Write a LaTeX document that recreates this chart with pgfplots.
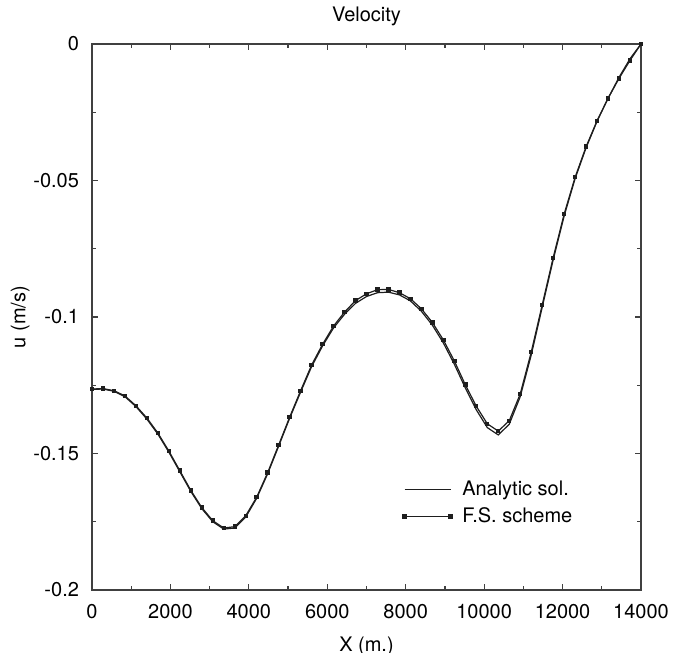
\documentclass[border=0pt]{standalone}
\usepackage{fontspec}
\setmainfont{TeX Gyre Heros}
\usepackage{pgfplots}
\pgfplotsset{compat=1.18}
\definecolor{ink}{HTML}{1E1E1E}
\pgfplotsset{
  plainleg/.style={legend image code/.code={\draw[##1] (0pt,0pt) -- (23pt,0pt);}},
  markleg/.style={legend image code/.code={\draw[##1] plot coordinates {(0pt,0pt) (23pt,0pt)};}},
}

\begin{document}
\fontsize{10}{12}\selectfont
\begin{tikzpicture}
\useasboundingbox (-46pt,-31.5pt) rectangle (292pt,295pt);
\begin{axis}[
  at={(0,0)}, anchor=south west,
  scale only axis,
  width=274.5pt, height=273pt,
  xmin=0, xmax=14000, ymin=-0.2, ymax=0,
  xtick={0,2000,4000,6000,8000,10000,12000,14000},
  xticklabels={0,2000,4000,6000,8000,10000,12000,14000},
  ytick={-0.2,-0.15,-0.1,-0.05,0},
  yticklabels={-0.2,-0.15,-0.1,-0.05,0},
  minor tick num=1,
  tick align=inside,
  major tick length=3pt, minor tick length=1.8pt,
  axis line style={ink!85, line width=0.6pt},
  every tick/.style={ink!85, line width=0.6pt},
  xticklabel style={anchor=base, yshift=-14.5pt},
  yticklabel style={anchor=east, xshift=-3pt},
  title={Velocity},
  title style={at={(axis description cs:0.5,1)}, anchor=base, yshift=5pt},
  xlabel={X (m.)},
  xlabel style={at={(axis description cs:0.5,-0.1118)}, anchor=base},
  ylabel={u (m/s)},
  ylabel style={at={(axis description cs:-0.131,0.5)}, anchor=center},
  legend style={draw=none, fill=none, at={(axis description cs:0.555,0.215)}, anchor=north west,
    row sep=0.5pt, font=\fontsize{10}{12}\selectfont},
  legend cell align=left,
]
\addplot[ink, line width=0.6pt, plainleg] coordinates {
(0,-0.1265) (280,-0.1264) (560,-0.1272) (840,-0.1292) (1120,-0.1328) (1400,-0.1374)
(1680,-0.1429) (1960,-0.1495) (2240,-0.1567) (2520,-0.1639) (2800,-0.1702) (3080,-0.1750)
(3360,-0.1777) (3640,-0.1773) (3920,-0.1733) (4200,-0.1664) (4480,-0.1574) (4760,-0.1473)
(5040,-0.1371) (5320,-0.1275) (5600,-0.1182) (5880,-0.1106) (6160,-0.1040) (6440,-0.0990)
(6720,-0.0950) (7000,-0.0925) (7280,-0.0911) (7560,-0.0909) (7840,-0.0919) (8120,-0.0941)
(8400,-0.0979) (8680,-0.1030) (8960,-0.1095) (9240,-0.1173) (9520,-0.1260) (9800,-0.1340)
(10080,-0.1405) (10360,-0.1432) (10640,-0.1393) (10920,-0.1292) (11200,-0.1140) (11480,-0.0965)
(11760,-0.0791) (12040,-0.0630) (12320,-0.0493) (12600,-0.0380) (12880,-0.0283) (13160,-0.0199)
(13440,-0.0122) (13720,-0.0054) (14000,0.0)
};
\addlegendentry{\hspace{3pt}Analytic sol.}
\addplot[ink, line width=0.6pt, mark=square*, mark size=0.8pt, markleg] coordinates {
(0,-0.1264) (280,-0.1262) (560,-0.1270) (840,-0.1289) (1120,-0.1325) (1400,-0.1370)
(1680,-0.1425) (1960,-0.1491) (2240,-0.1563) (2520,-0.1635) (2800,-0.1698) (3080,-0.1746)
(3360,-0.1773) (3640,-0.1768) (3920,-0.1728) (4200,-0.1660) (4480,-0.1570) (4760,-0.1469)
(5040,-0.1367) (5320,-0.1270) (5600,-0.1176) (5880,-0.1100) (6160,-0.1033) (6440,-0.0982)
(6720,-0.0940) (7000,-0.0915) (7280,-0.0900) (7560,-0.0899) (7840,-0.0911) (8120,-0.0933)
(8400,-0.0970) (8680,-0.1020) (8960,-0.1084) (9240,-0.1161) (9520,-0.1248) (9800,-0.1327)
(10080,-0.1391) (10360,-0.1418) (10640,-0.1380) (10920,-0.1282) (11200,-0.1129) (11480,-0.0956)
(11760,-0.0783) (12040,-0.0623) (12320,-0.0488) (12600,-0.0376) (12880,-0.0281) (13160,-0.0199)
(13440,-0.0126) (13720,-0.0060) (14000,0.0)
};
\addlegendentry{\hspace{3pt}F.S. scheme}
\end{axis}
\end{tikzpicture}
\end{document}
